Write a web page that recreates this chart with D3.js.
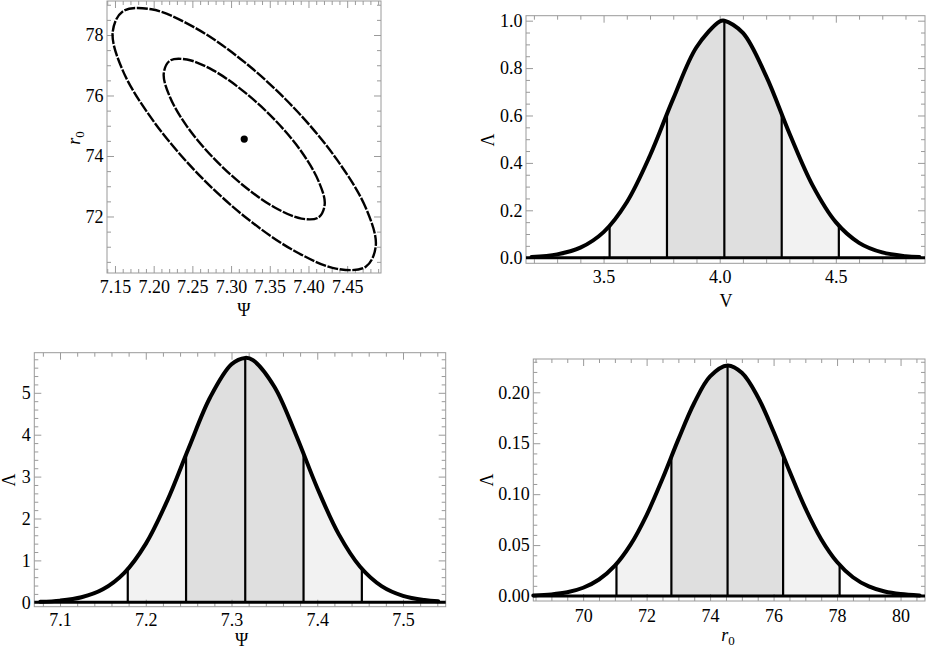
<!DOCTYPE html>
<html><head><meta charset="utf-8">
<script src="https://cdn.jsdelivr.net/npm/d3@7"></script>
<style>
body{margin:0;background:#fff}
svg{display:block}
text{font-family:"Liberation Serif",serif;fill:#000}
</style>
</head><body>
<svg id="c" width="926" height="650"></svg>
<script>
// ---------- data ----------
// joint contour panel (Psi vs r0)
const bestPsi = 7.317, bestR0 = 74.56;
const innerPsi = [7.421,7.413,7.391,7.357,7.317,7.277,7.243,7.221,7.213,7.221,7.243,7.277,7.317,7.357,7.391,7.413];
const innerR0  = [72.41,73.17,74.14,75.18,76.12,76.83,77.19,77.15,76.72,75.95,74.98,73.94,73.00,72.29,71.93,71.97];
const outerPsi = [7.487,7.474,7.437,7.382,7.317,7.252,7.197,7.160,7.147,7.160,7.197,7.252,7.317,7.382,7.437,7.474];
const outerR0  = [71.04,72.29,73.87,75.57,77.11,78.26,78.85,78.78,78.08,76.83,75.25,73.55,72.01,70.86,70.27,70.34];
const tlXTicks = [7.15,7.20,7.25,7.30,7.35,7.40,7.45];
const tlXLabels = ["7.15","7.20","7.25","7.30","7.35","7.40","7.45"];
const tlYTicks = [72,74,76,78];
const tlYLabels = ["72","74","76","78"];

// V marginal
const vX = [3.19,3.30,3.40,3.50,3.60,3.70,3.80,3.90,4.00,4.02,4.10,4.20,4.30,4.40,4.50,4.60,4.70,4.80,4.86];
const vL = [0.0035,0.0140,0.0423,0.108,0.234,0.431,0.671,0.888,0.9967,1.0,0.9487,0.766,0.525,0.305,0.150,0.0628,0.0223,0.0067,0.0030];
const vEdges = [3.526,3.773,4.020,4.267,4.513];
const vEdgeL = [0.135,0.607,1.0,0.607,0.135];
const vXTicks = [3.5,4.0,4.5];
const vXLabels = ["3.5","4.0","4.5"];
const vYTicks = [0,0.2,0.4,0.6,0.8,1.0];
const vYLabels = ["0.0","0.2","0.4","0.6","0.8","1.0"];

// Psi marginal
const psiX = [7.077,7.100,7.125,7.150,7.175,7.200,7.225,7.250,7.275,7.300,7.316,7.325,7.350,7.375,7.400,7.425,7.450,7.475,7.500,7.525,7.541];
const psiL = [0.013,0.040,0.120,0.310,0.703,1.395,2.422,3.678,4.887,5.681,5.833,5.779,5.144,4.006,2.729,1.627,0.849,0.387,0.155,0.054,0.026];
const psiEdges = [7.179,7.247,7.316,7.384,7.452];
const psiEdgeL = [0.79,3.54,5.83,3.54,0.79];
const psiXTicks = [7.1,7.2,7.3,7.4,7.5];
const psiXLabels = ["7.1","7.2","7.3","7.4","7.5"];
const psiYTicks = [0,1,2,3,4,5];
const psiYLabels = ["0","1","2","3","4","5"];

// r0 marginal
const r0X = [68.43,69.0,69.5,70.0,70.5,71.0,71.5,72.0,72.5,73.0,73.5,74.0,74.55,75.0,75.5,76.0,76.5,77.0,77.5,78.0,78.5,79.0,79.5,80.0,80.6];
const r0L = [0.0006,0.0016,0.0037,0.0081,0.0162,0.0298,0.0507,0.0795,0.1151,0.1538,0.1895,0.2156,0.2263,0.2191,0.1957,0.1613,0.1227,0.0862,0.0558,0.0334,0.0184,0.0094,0.0044,0.0019,0.0006];
const r0Edges = [71.05,72.78,74.55,76.30,78.08];
const r0EdgeL = [0.0306,0.1373,0.2263,0.1373,0.0306];
const r0XTicks = [70,72,74,76,78,80];
const r0XLabels = ["70","72","74","76","78","80"];
const r0YTicks = [0,0.05,0.10,0.15,0.20];
const r0YLabels = ["0.00","0.05","0.10","0.15","0.20"];

// ---------- drawing ----------
const svg = d3.select("#c");
const FRAME = "#9a9a9a";
const FS = 18;
const FONT = '"Liberation Serif",serif';

function minorTicks(domain, step, majors) {
  const lo = Math.ceil(domain[0] / step - 1e-9), hi = Math.floor(domain[1] / step + 1e-9);
  const out = [];
  for (let k = lo; k <= hi; k++) {
    const v = k * step;
    if (!majors.some(m => Math.abs(m - v) < step * 1e-3)) out.push(v);
  }
  return out;
}

function styleAxis(sel) {
  sel.select(".domain").remove();
  sel.attr("font-family", FONT).attr("font-size", FS);
  sel.selectAll(".tick line").attr("stroke", FRAME).attr("stroke-width", 1);
  sel.selectAll(".tick text").attr("font-family", FONT)
     .attr("font-size", FS).attr("fill", "#000");
}

function frameAxes(x, y, o) {
  const [x0, x1] = x.range(), [y0, y1] = y.range();
  const g = svg.append("g");
  const mx = minorTicks(x.domain(), o.xMinor, o.xTicks);
  const my = minorTicks(y.domain(), o.yMinor, o.yTicks);
  // bottom
  g.append("g").attr("transform", `translate(0,${y0})`)
    .call(d3.axisBottom(x).tickValues(mx).tickFormat("").tickSize(-4)).call(styleAxis);
  g.append("g").attr("transform", `translate(0,${y0})`)
    .call(d3.axisBottom(x).tickValues(o.xTicks).tickFormat((d, i) => o.xLabels[i]).tickSize(-7).tickPadding(o.xPad)).call(styleAxis);
  // top
  g.append("g").attr("transform", `translate(0,${y1})`)
    .call(d3.axisTop(x).tickValues(mx).tickFormat("").tickSize(-4)).call(styleAxis);
  g.append("g").attr("transform", `translate(0,${y1})`)
    .call(d3.axisTop(x).tickValues(o.xTicks).tickFormat("").tickSize(-7)).call(styleAxis);
  // left
  g.append("g").attr("transform", `translate(${x0},0)`)
    .call(d3.axisLeft(y).tickValues(my).tickFormat("").tickSize(-4)).call(styleAxis);
  g.append("g").attr("transform", `translate(${x0},0)`)
    .call(d3.axisLeft(y).tickValues(o.yTicks).tickFormat((d, i) => o.yLabels[i]).tickSize(-7).tickPadding(3.5)).call(styleAxis);
  // right
  g.append("g").attr("transform", `translate(${x1},0)`)
    .call(d3.axisRight(y).tickValues(my).tickFormat("").tickSize(-4)).call(styleAxis);
  g.append("g").attr("transform", `translate(${x1},0)`)
    .call(d3.axisRight(y).tickValues(o.yTicks).tickFormat("").tickSize(-7)).call(styleAxis);
  g.append("rect").attr("x", x0).attr("y", y1).attr("width", x1 - x0).attr("height", y0 - y1)
    .attr("fill", "none").attr("stroke", FRAME).attr("stroke-width", 1);
}

function titleText(xp, yp, rotate, parts) {
  const t = svg.append("text")
    .attr("transform", `translate(${xp},${yp})` + (rotate ? " rotate(-90)" : ""))
    .attr("text-anchor", "middle").attr("font-size", FS).attr("font-family", FONT);
  parts.forEach(p => {
    const s = t.append("tspan").text(p.t);
    if (p.italic) s.attr("font-style", "italic");
    if (p.sub) s.attr("font-size", 13).attr("dy", 4);
  });
}

function marginal(id, xs, ls, edges, edgeL, x, y, o) {
  const pts = xs.map((v, i) => [v, ls[i]]);
  const area = d3.area().x(d => x(d[0])).y0(y(0)).y1(d => y(d[1])).curve(d3.curveCatmullRom);
  const line = d3.line().x(d => x(d[0])).y(d => y(d[1])).curve(d3.curveCatmullRom);
  const bands = [[edges[0], edges[1], "#f2f2f2"], [edges[1], edges[3], "#dfdfdf"], [edges[3], edges[4], "#f2f2f2"]];
  const defs = svg.append("defs");
  bands.forEach((b, i) => {
    defs.append("clipPath").attr("id", `${id}-b${i}`).append("rect")
      .attr("x", x(b[0])).attr("width", x(b[1]) - x(b[0]))
      .attr("y", 0).attr("height", 650);
    svg.append("path").datum(pts).attr("d", area).attr("fill", b[2])
      .attr("clip-path", `url(#${id}-b${i})`);
  });
  edges.forEach((e, i) => {
    svg.append("line").attr("x1", x(e)).attr("x2", x(e)).attr("y1", y(0)).attr("y2", y(edgeL[i]))
      .attr("stroke", "#000").attr("stroke-width", 2.2);
  });
  frameAxes(x, y, o);
  svg.append("line").attr("x1", x.range()[0]).attr("x2", x.range()[1]).attr("y1", y(0)).attr("y2", y(0))
    .attr("stroke", "#000").attr("stroke-width", 3);
  svg.append("path").datum(pts).attr("d", line).attr("fill", "none")
    .attr("stroke", "#000").attr("stroke-width", 4).attr("stroke-linejoin", "round").attr("stroke-linecap", "round");
}

// ---- top-left: contours ----
{
  const x = d3.scaleLinear().domain([7.1397, 7.4937]).range([107, 381]);
  const y = d3.scaleLinear().domain([70.132, 79.124]).range([273, 1]);
  frameAxes(x, y, {xTicks: tlXTicks, xLabels: tlXLabels, yTicks: tlYTicks, yLabels: tlYLabels, xMinor: 0.01, yMinor: 0.5, xPad: 7});
  const ell = d3.line().x(d => x(d[0])).y(d => y(d[1])).curve(d3.curveCatmullRomClosed);
  [[outerPsi, outerR0], [innerPsi, innerR0]].forEach(([px, py]) => {
    svg.append("path").datum(px.map((v, i) => [v, py[i]])).attr("d", ell)
      .attr("fill", "none").attr("stroke", "#000").attr("stroke-width", 2.4)
      .attr("stroke-dasharray", "11,1.6");
  });
  svg.append("circle").attr("cx", x(bestPsi)).attr("cy", y(bestR0)).attr("r", 3.6).attr("fill", "#000");
  titleText(244, 316, false, [{t: "Ψ"}]);
  titleText(80, 138, true, [{t: "r", italic: true}, {t: "0", sub: true}]);
}

// ---- top-right: V ----
{
  const x = d3.scaleLinear().domain([3.166, 4.884]).range([526, 925]);
  const y = d3.scaleLinear().domain([-0.0236, 1.021]).range([263.3, 15.7]);
  marginal("v", vX, vL, vEdges, vEdgeL, x, y, {xTicks: vXTicks, xLabels: vXLabels, yTicks: vYTicks, yLabels: vYLabels, xMinor: 0.1, yMinor: 0.05, xPad: 7});
  titleText(726, 306.5, false, [{t: "V"}]);
  titleText(494, 140, true, [{t: "Λ"}]);
}

// ---- bottom-left: Psi ----
{
  const x = d3.scaleLinear().domain([7.070, 7.5498]).range([34.3, 445.7]);
  const y = d3.scaleLinear().domain([-0.105, 5.957]).range([606.7, 352.7]);
  marginal("psi", psiX, psiL, psiEdges, psiEdgeL, x, y, {xTicks: psiXTicks, xLabels: psiXLabels, yTicks: psiYTicks, yLabels: psiYLabels, xMinor: 0.02, yMinor: 0.2, xPad: 7});
  titleText(241.7, 645.5, false, [{t: "Ψ"}]);
  titleText(15, 480, true, [{t: "Λ"}]);
}

// ---- bottom-right: r0 ----
{
  const x = d3.scaleLinear().domain([68.43, 80.77]).range([533.3, 925]);
  const y = d3.scaleLinear().domain([-0.0049, 0.2327]).range([601, 359]);
  marginal("r0", r0X, r0L, r0Edges, r0EdgeL, x, y, {xTicks: r0XTicks, xLabels: r0XLabels, yTicks: r0YTicks, yLabels: r0YLabels, xMinor: 0.5, yMinor: 0.01, xPad: 8});
  titleText(728, 641, false, [{t: "r", italic: true}, {t: "0", sub: true}]);
  titleText(493, 480, true, [{t: "Λ"}]);
}
</script>
</body></html>
